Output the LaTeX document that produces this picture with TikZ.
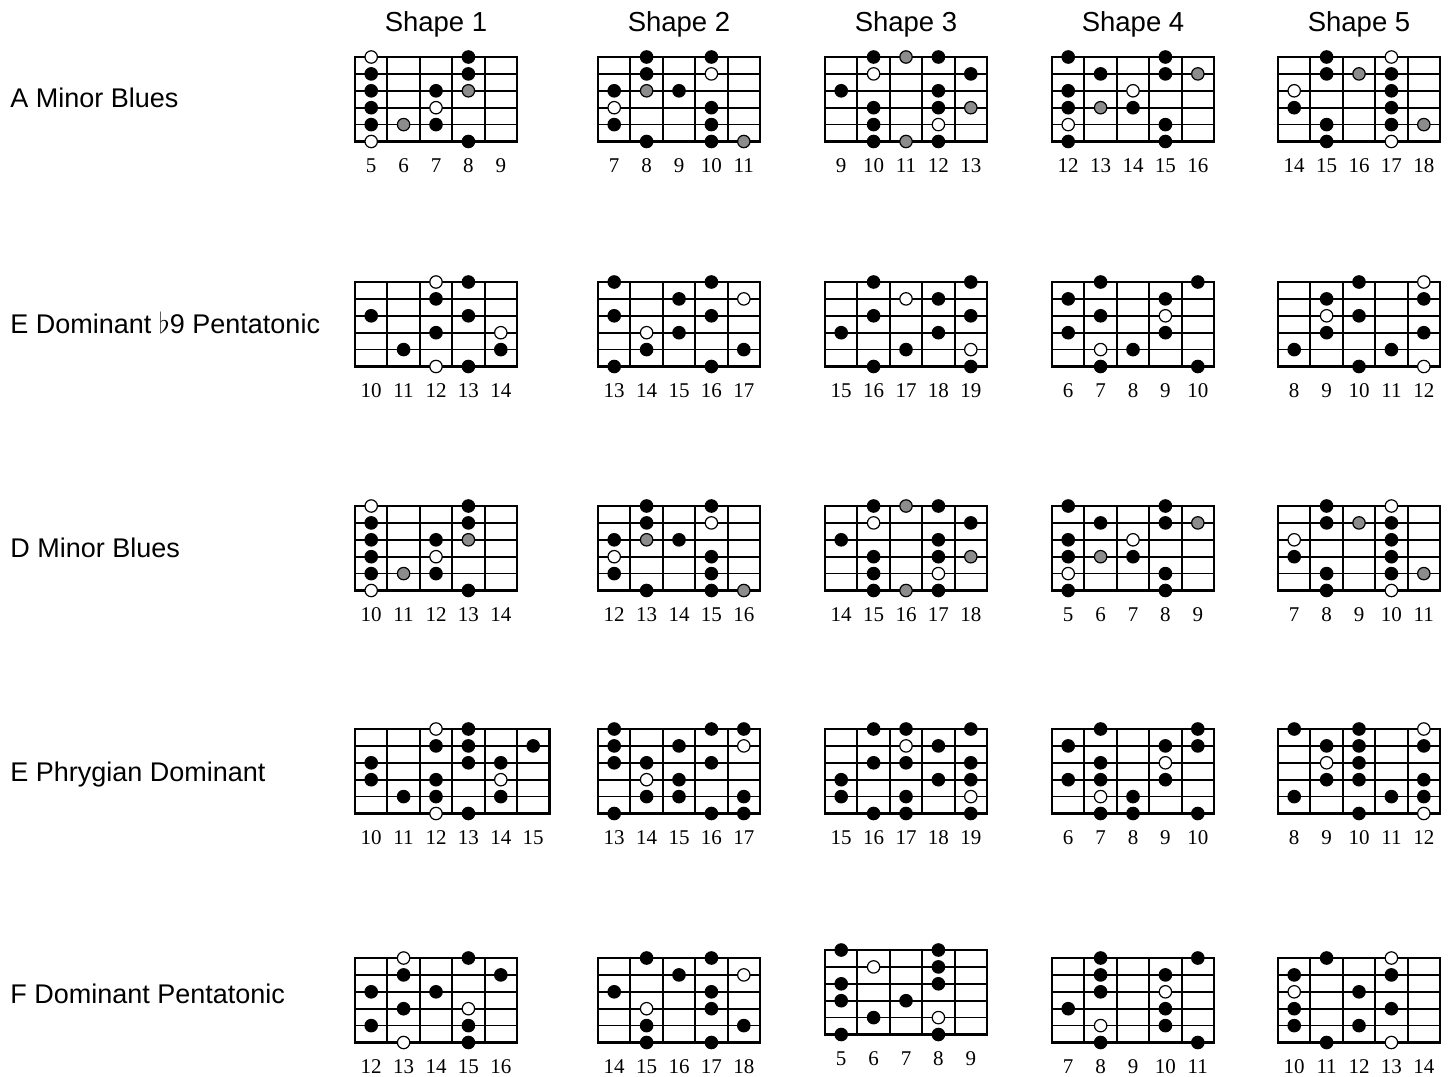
\documentclass[tikz,border=0pt]{standalone}
\usepackage{fontspec}
\setmainfont{Liberation Serif}
\newfontfamily\labelfont{Liberation Sans}
\usetikzlibrary{calc}
\definecolor{NoteGryClr}{rgb}{0.55,0.55,0.55}

\tikzset{
  grid frame/.style={line width=1.4pt},
  fret line/.style={line width=1pt},
  string line/.style={line width=0.8pt},
  blk/.style={fill=black,draw=black,line width=0.6pt},
  wht/.style={fill=white,draw=black,line width=0.6pt},
  gry/.style={fill=NoteGryClr,draw=black,line width=0.6pt},
  fret num/.style={font=\fontsize{10.5}{12}\selectfont,inner sep=0pt},
  row label/.style={font=\labelfont\fontsize{13.5}{16}\selectfont,inner sep=0pt,anchor=base west},
  shape head/.style={font=\labelfont\fontsize{13.75}{16}\selectfont,inner sep=0pt,anchor=base},
}

% #1 name, #2 left, #3 top, #4 frets, #5 first fret, #6 notes col/string/style
\newcommand{\ShapeBox}[6]{%
  \begin{scope}[shift={(#2,#3)}]
    \pgfmathtruncatemacro\lastfret{#4-1}
    \foreach \st in {1,...,4}
      \draw[string line] (0,\st*16.9) -- (#4*32.4,\st*16.9);
    \foreach \cl in {1,...,\lastfret}
      \draw[fret line] (\cl*32.4,0) -- (\cl*32.4,84.5);
    \draw[grid frame] (0,0) rectangle (#4*32.4,84.5);
    \foreach \cl/\st/\nt in {#6}
      \path[\nt] ({(\cl-0.5)*32.4},{(\st-1)*16.9}) circle (3.1pt);
    \foreach \cl in {1,...,#4} {
      \pgfmathtruncatemacro\fr{#5+\cl-1}
      \node[fret num] (#1-\cl) at ({(\cl-0.5)*32.4},108.5) {\fr};
    }
  \end{scope}}

\begin{document}
\begin{tikzpicture}[x=0.5pt,y=-0.5pt]
\useasboundingbox (0,0) rectangle (1449,1076);

\node[shape head] (h1) at (436,32) {Shape 1};
\node[shape head] (h2) at (679,32) {Shape 2};
\node[shape head] (h3) at (906,32) {Shape 3};
\node[shape head] (h4) at (1133,32) {Shape 4};
\node[shape head] (h5) at (1359,32) {Shape 5};

\node[row label] (amin) at (10,107) {A Minor Blues};
\node[row label] (edom) at (10,333) {E Dominant $\flat$9 Pentatonic};
\node[row label] (dmin) at (10,557) {D Minor Blues};
\node[row label] (ephr) at (10,781) {E Phrygian Dominant};
\node[row label] (fdom) at (10,1003) {F Dominant Pentatonic};

% A minor blues
\ShapeBox{a1}{355}{57}{5}{5}{1/1/wht,1/2/blk,1/3/blk,1/4/blk,1/5/blk,1/6/wht,2/5/gry,3/3/blk,3/4/wht,3/5/blk,4/1/blk,4/2/blk,4/3/gry,4/6/blk}
\ShapeBox{a2}{598}{57}{5}{7}{1/3/blk,1/4/wht,1/5/blk,2/1/blk,2/2/blk,2/3/gry,2/6/blk,3/3/blk,4/1/blk,4/2/wht,4/4/blk,4/5/blk,4/6/blk,5/6/gry}
\ShapeBox{a3}{825}{57}{5}{9}{1/3/blk,2/1/blk,2/2/wht,2/4/blk,2/5/blk,2/6/blk,3/1/gry,3/6/gry,4/1/blk,4/3/blk,4/4/blk,4/5/wht,4/6/blk,5/2/blk,5/4/gry}
\ShapeBox{a4}{1052}{57}{5}{12}{1/1/blk,1/3/blk,1/4/blk,1/5/wht,1/6/blk,2/2/blk,2/4/gry,3/3/wht,3/4/blk,4/1/blk,4/2/blk,4/5/blk,4/6/blk,5/2/gry}
\ShapeBox{a5}{1278}{57}{5}{14}{1/3/wht,1/4/blk,2/1/blk,2/2/blk,2/5/blk,2/6/blk,3/2/gry,4/1/wht,4/2/blk,4/3/blk,4/4/blk,4/5/blk,4/6/wht,5/5/gry}

% E dominant b9 pentatonic
\ShapeBox{e1}{355}{282}{5}{10}{1/3/blk,2/5/blk,3/1/wht,3/2/blk,3/4/blk,3/6/wht,4/1/blk,4/3/blk,4/6/blk,5/4/wht,5/5/blk}
\ShapeBox{e2}{598}{282}{5}{13}{1/1/blk,1/3/blk,1/6/blk,2/4/wht,2/5/blk,3/2/blk,3/4/blk,4/1/blk,4/3/blk,4/6/blk,5/2/wht,5/5/blk}
\ShapeBox{e3}{825}{282}{5}{15}{1/4/blk,2/1/blk,2/3/blk,2/6/blk,3/2/wht,3/5/blk,4/2/blk,4/4/blk,5/1/blk,5/3/blk,5/5/wht,5/6/blk}
\ShapeBox{e4}{1052}{282}{5}{6}{1/2/blk,1/4/blk,2/1/blk,2/3/blk,2/5/wht,2/6/blk,3/5/blk,4/2/blk,4/3/wht,4/4/blk,5/1/blk,5/6/blk}
\ShapeBox{e5}{1278}{282}{5}{8}{1/5/blk,2/2/blk,2/3/wht,2/4/blk,3/1/blk,3/3/blk,3/6/blk,4/5/blk,5/1/wht,5/2/blk,5/4/blk,5/6/wht}

% D minor blues
\ShapeBox{d1}{355}{506}{5}{10}{1/1/wht,1/2/blk,1/3/blk,1/4/blk,1/5/blk,1/6/wht,2/5/gry,3/3/blk,3/4/wht,3/5/blk,4/1/blk,4/2/blk,4/3/gry,4/6/blk}
\ShapeBox{d2}{598}{506}{5}{12}{1/3/blk,1/4/wht,1/5/blk,2/1/blk,2/2/blk,2/3/gry,2/6/blk,3/3/blk,4/1/blk,4/2/wht,4/4/blk,4/5/blk,4/6/blk,5/6/gry}
\ShapeBox{d3}{825}{506}{5}{14}{1/3/blk,2/1/blk,2/2/wht,2/4/blk,2/5/blk,2/6/blk,3/1/gry,3/6/gry,4/1/blk,4/3/blk,4/4/blk,4/5/wht,4/6/blk,5/2/blk,5/4/gry}
\ShapeBox{d4}{1052}{506}{5}{5}{1/1/blk,1/3/blk,1/4/blk,1/5/wht,1/6/blk,2/2/blk,2/4/gry,3/3/wht,3/4/blk,4/1/blk,4/2/blk,4/5/blk,4/6/blk,5/2/gry}
\ShapeBox{d5}{1278}{506}{5}{7}{1/3/wht,1/4/blk,2/1/blk,2/2/blk,2/5/blk,2/6/blk,3/2/gry,4/1/wht,4/2/blk,4/3/blk,4/4/blk,4/5/blk,4/6/wht,5/5/gry}

% E phrygian dominant
\ShapeBox{p1}{355}{729}{6}{10}{1/3/blk,1/4/blk,2/5/blk,3/1/wht,3/2/blk,3/4/blk,3/5/blk,3/6/wht,4/1/blk,4/2/blk,4/3/blk,4/6/blk,5/3/blk,5/4/wht,5/5/blk,6/2/blk}
\ShapeBox{p2}{598}{729}{5}{13}{1/1/blk,1/2/blk,1/3/blk,1/6/blk,2/3/blk,2/4/wht,2/5/blk,3/2/blk,3/4/blk,3/5/blk,4/1/blk,4/3/blk,4/6/blk,5/1/blk,5/2/wht,5/5/blk,5/6/blk}
\ShapeBox{p3}{825}{729}{5}{15}{1/4/blk,1/5/blk,2/1/blk,2/3/blk,2/6/blk,3/1/blk,3/2/wht,3/3/blk,3/5/blk,3/6/blk,4/2/blk,4/4/blk,5/1/blk,5/3/blk,5/4/blk,5/5/wht,5/6/blk}
\ShapeBox{p4}{1052}{729}{5}{6}{1/2/blk,1/4/blk,2/1/blk,2/3/blk,2/4/blk,2/5/wht,2/6/blk,3/5/blk,3/6/blk,4/2/blk,4/3/wht,4/4/blk,5/1/blk,5/2/blk,5/6/blk}
\ShapeBox{p5}{1278}{729}{5}{8}{1/1/blk,1/5/blk,2/2/blk,2/3/wht,2/4/blk,3/1/blk,3/2/blk,3/3/blk,3/4/blk,3/6/blk,4/5/blk,5/1/wht,5/2/blk,5/4/blk,5/5/blk,5/6/wht}

% F dominant pentatonic
\ShapeBox{f1}{355}{958}{5}{12}{1/3/blk,1/5/blk,2/1/wht,2/2/blk,2/4/blk,2/6/wht,3/3/blk,4/1/blk,4/4/wht,4/5/blk,4/6/blk,5/2/blk}
\ShapeBox{f2}{598}{958}{5}{14}{1/3/blk,2/1/blk,2/4/wht,2/5/blk,2/6/blk,3/2/blk,4/1/blk,4/3/blk,4/4/blk,4/6/blk,5/2/wht,5/5/blk}
\ShapeBox{f3}{825}{950}{5}{5}{1/1/blk,1/3/blk,1/4/blk,1/6/blk,2/2/wht,2/5/blk,3/4/blk,4/1/blk,4/2/blk,4/3/blk,4/5/wht,4/6/blk}
\ShapeBox{f4}{1052}{958}{5}{7}{1/4/blk,2/1/blk,2/2/blk,2/3/blk,2/5/wht,2/6/blk,4/2/blk,4/3/wht,4/4/blk,4/5/blk,5/1/blk,5/6/blk}
\ShapeBox{f5}{1278}{958}{5}{10}{1/2/blk,1/3/wht,1/4/blk,1/5/blk,2/1/blk,2/6/blk,3/3/blk,3/5/blk,4/1/wht,4/2/blk,4/4/blk,4/6/wht}

\end{tikzpicture}
\end{document}
